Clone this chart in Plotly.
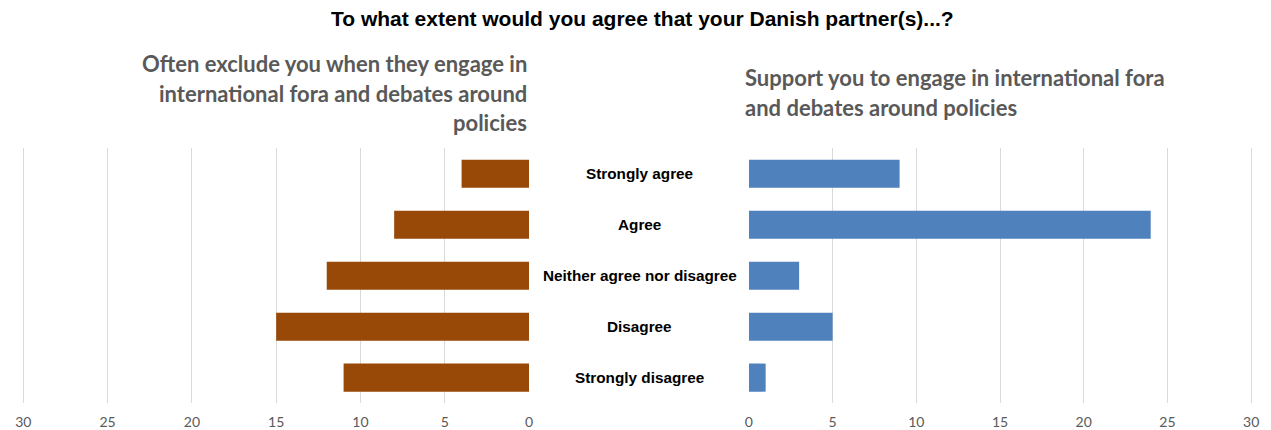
import plotly.graph_objects as go

categories = ["Strongly agree", "Agree", "Neither agree nor disagree", "Disagree", "Strongly disagree"]
exclude_counts = [4, 8, 12, 15, 11]
support_counts = [9, 24, 3, 5, 1]
tick_vals = [0, 5, 10, 15, 20, 25, 30]

title_text = "To what extent would you agree that your Danish partner(s)...?"
left_title_lines = ["Often exclude you when they engage in",
                    "international fora and debates around",
                    "policies"]
right_title_lines = ["Support you to engage in international fora",
                     "and debates around policies"]

W, H = 1271, 430

def px_x(p):
    return p / W

def px_y(p):
    return 1 - p / H

fig = go.Figure()

fig.add_trace(go.Bar(
    x=exclude_counts, y=categories, orientation="h",
    marker=dict(color="#984807", line=dict(width=0)),
    width=0.55, xaxis="x", yaxis="y", showlegend=False,
))
fig.add_trace(go.Bar(
    x=support_counts, y=categories, orientation="h",
    marker=dict(color="#4F81BD", line=dict(width=0)),
    width=0.55, xaxis="x2", yaxis="y2", showlegend=False,
))

tick_font = dict(family="Lato, Carlito, Calibri, sans-serif", size=14, color="#595959")
y_dom = [px_y(405), px_y(149)]

# axis spans a hair past 30 so the outer gridline stays visible
x_max = 30.1

fig.update_layout(
    width=W, height=H,
    margin=dict(l=0, r=0, t=0, b=0),
    paper_bgcolor="white", plot_bgcolor="white",
    xaxis=dict(domain=[px_x(15.8), px_x(528)], range=[x_max, 0], tickvals=tick_vals,
               showgrid=True, gridcolor="#D9D9D9", gridwidth=1, zeroline=False,
               showline=False, ticks="", tickfont=tick_font, ticklabelstandoff=9,
               anchor="y", fixedrange=True),
    yaxis=dict(domain=y_dom, categoryorder="array", categoryarray=categories,
               autorange="reversed", showticklabels=False, showgrid=False,
               zeroline=False, showline=False, ticks="", anchor="x"),
    xaxis2=dict(domain=[px_x(750), px_x(1258.7)], range=[0, x_max], tickvals=tick_vals,
                showgrid=True, gridcolor="#D9D9D9", gridwidth=1, zeroline=False,
                showline=False, ticks="", tickfont=tick_font, ticklabelstandoff=9,
                anchor="y2", fixedrange=True),
    yaxis2=dict(domain=y_dom, categoryorder="array", categoryarray=categories,
                autorange="reversed", showticklabels=False, showgrid=False,
                zeroline=False, showline=False, ticks="", anchor="x2"),
)

annotations = []

# main title
annotations.append(dict(
    text="<b>" + title_text + "</b>", x=px_x(643), y=px_y(19), xref="paper", yref="paper",
    xanchor="center", yanchor="middle", showarrow=False,
    font=dict(family="Liberation Sans, Arial, sans-serif", size=21, color="black"),
))

# panel headings, one annotation per line
head_font = dict(family="Lato, Carlito, Calibri, sans-serif", size=22, color="#595959")
for i, line in enumerate(left_title_lines):
    annotations.append(dict(
        text="<b>" + line + "</b>", x=px_x(528), y=px_y(64 + 29.5 * i),
        xref="paper", yref="paper", xanchor="right", yanchor="middle",
        showarrow=False, font=head_font,
    ))
for i, line in enumerate(right_title_lines):
    annotations.append(dict(
        text="<b>" + line + "</b>", x=px_x(744), y=px_y(78 + 29.5 * i),
        xref="paper", yref="paper", xanchor="left", yanchor="middle",
        showarrow=False, font=head_font,
    ))

# shared category labels between the panels
for cat in categories:
    annotations.append(dict(
        text="<b>" + cat + "</b>", x=px_x(640), y=cat, xref="paper", yref="y",
        xanchor="center", yanchor="middle", showarrow=False,
        font=dict(family="Liberation Sans, Arial, sans-serif", size=15.3, color="black"),
    ))

fig.update_layout(annotations=annotations)

fig.write_html("out.html")
